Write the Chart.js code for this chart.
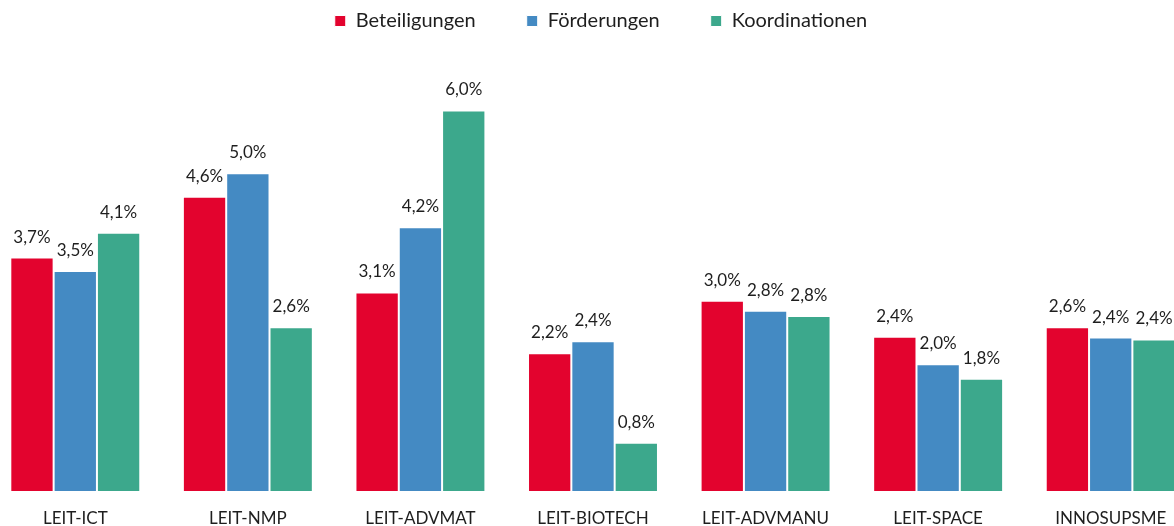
<!DOCTYPE html>
<html>
<head>
<meta charset="utf-8">
<script src="https://cdn.jsdelivr.net/npm/chart.js"></script>
<style>
    html, body { margin: 0; padding: 0; background: #fff; overflow: hidden; }
    #wrap { position: absolute; left: -12px; top: 0; width: 1212px; height: 526px; }
</style>
</head>
<body>
<div id="wrap"><canvas id="programChart"></canvas></div>
<script>
// Chart data
const categories = ['LEIT-ICT', 'LEIT-NMP', 'LEIT-ADVMAT', 'LEIT-BIOTECH', 'LEIT-ADVMANU', 'LEIT-SPACE', 'INNOSUPSME'];
const beteiligungen = [3.68, 4.64, 3.13, 2.17, 3.0, 2.43, 2.58];
const foerderungen = [3.47, 5.01, 4.16, 2.36, 2.84, 2.0, 2.42];
const koordinationen = [4.07, 2.58, 6.0, 0.76, 2.76, 1.77, 2.39];

const FONT = 'Lato, "Liberation Sans", sans-serif';

function fmtPct(v) {
    return v.toFixed(1).replace('.', ',') + '%';
}

// Value labels above each bar
const valueLabels = {
    id: 'valueLabels',
    afterDatasetsDraw(chart) {
        const ctx = chart.ctx;
        ctx.save();
        ctx.font = '17px ' + FONT;
        ctx.fillStyle = '#1e1e1e';
        ctx.textAlign = 'center';
        ctx.textBaseline = 'alphabetic';
        chart.data.datasets.forEach((ds, i) => {
            chart.getDatasetMeta(i).data.forEach((bar, j) => {
                ctx.fillText(fmtPct(ds.data[j]), bar.x, bar.y - 15);
            });
        });
        ctx.restore();
    }
};

// Fixed legend height and a small nudge of its position
// (legend clips to its own box, so only the top edge moves up)
const legendFix = {
    id: 'legendFix',
    beforeInit(chart) {
        const lg = chart.legend;
        const fit = lg.fit;
        lg.fit = function () {
            fit.call(this);
            this.height = 47;
        };
    },
    afterLayout(chart) {
        const lg = chart.legend;
        lg.left += 8;
        lg.right += 8;
        lg.top -= 40;
    }
};

const ctx = document.getElementById('programChart').getContext('2d');
const programChart = new Chart(ctx, {
    type: 'bar',
    data: {
        labels: categories,
        datasets: [
            { label: 'Beteiligungen', data: beteiligungen, backgroundColor: '#E3032E' },
            { label: 'Förderungen', data: foerderungen, backgroundColor: '#448AC3' },
            { label: 'Koordinationen', data: koordinationen, backgroundColor: '#3CA88C' }
        ]
    },
    options: {
        responsive: true,
        maintainAspectRatio: false,
        animation: false,
        layout: { padding: { left: 1, right: 3, top: 0, bottom: 0 } },
        datasets: {
            bar: {
                categoryPercentage: 0.753,
                barPercentage: 1,
                borderWidth: 1,
                borderColor: '#ffffff'
            }
        },
        scales: {
            x: {
                grid: { display: false, drawTicks: false },
                border: { display: false },
                ticks: {
                    color: '#1e1e1e',
                    font: { family: FONT, size: 17 },
                    padding: 17,
                    maxRotation: 0,
                    autoSkip: false
                },
                afterFit: function(scale) {
                    scale.height = 35;
                }
            },
            y: {
                display: false,
                min: 0,
                max: 7
            }
        },
        plugins: {
            legend: {
                position: 'top',
                labels: {
                    boxWidth: 11,
                    boxHeight: 11,
                    padding: 51,
                    color: '#1e1e1e',
                    font: { family: FONT, size: 20 }
                }
            },
            tooltip: { enabled: false }
        }
    },
    plugins: [valueLabels, legendFix]
});
</script>
</body>
</html>
